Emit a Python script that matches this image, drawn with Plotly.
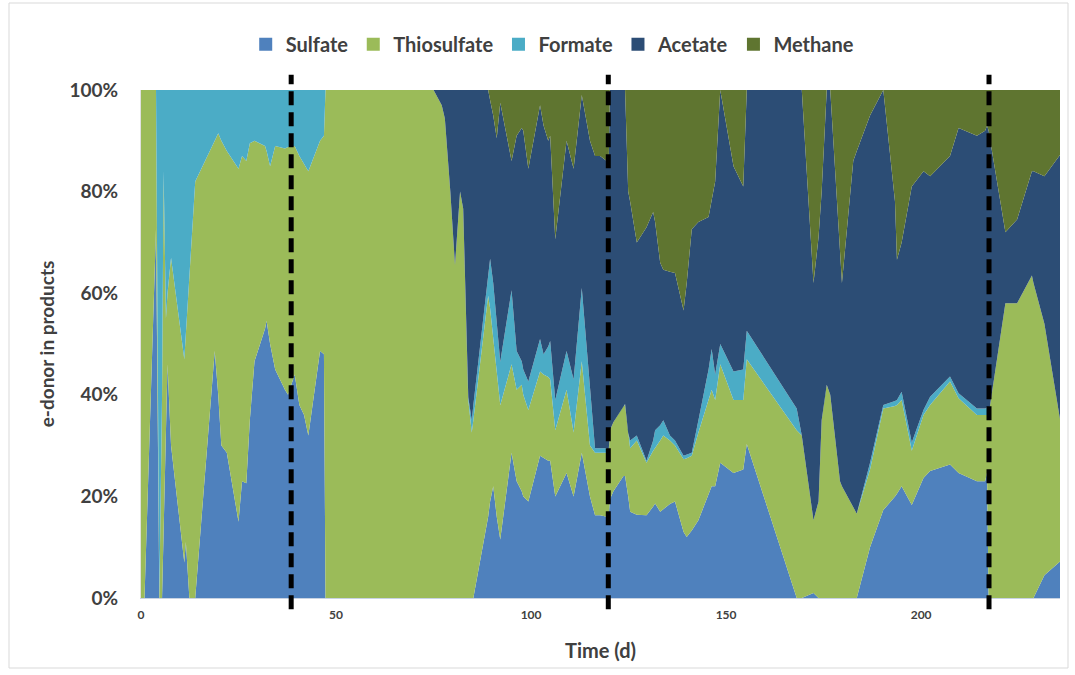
import plotly.graph_objects as go

# Time (d)
days = [
    0, 0.9, 3.85, 4.7, 5.4, 5.8, 6.4, 6.8, 7.7, 11.1,
    11.5, 12.4, 13.9, 18.9, 19.8, 20.6, 22.0, 25.0, 25.9, 27.0,
    27.9, 29.1, 31.8, 32.2, 33.1, 34.4, 36.9, 37.7, 39.4, 40.6,
    41.8, 42.9, 45.9, 46.9, 47.3, 50, 55, 60, 65, 70,
    75, 77.1, 77.9, 79.3, 80.5, 81.8, 82.6, 83.9, 84.8, 85.2,
    89.0, 89.5, 90.3, 91.2, 92.1, 95.0, 96.3, 97.6, 98.0, 99.3,
    102.3, 103.2, 104.4, 104.9, 106.2, 109.1, 110.9, 113.0, 115.1, 116.4,
    117.7, 119.4, 119.9, 120.2, 121.1, 123.7, 124.1, 124.9, 125.4, 127.1,
    129.6, 131.3, 131.8, 133.1, 133.9, 135.6, 136.9, 139.1, 139.9, 141.2,
    142.9, 145.5, 146.3, 147.2, 148.5, 151.9, 154.4, 155.3, 168.1, 169.4,
    172.4, 173.7, 174.5, 175.4, 175.8, 176.7, 179.2, 179.7, 182.6, 183.5,
    186.9, 190.3, 193.3, 193.8, 195.0, 197.6, 200.6, 202.3, 207.4, 209.6,
    214.3, 216.4, 216.9, 217.3, 221.6, 224.6, 228.4, 228.8, 231.6, 235.6,
]

sulfate = [
    0, 0, 72.7, 0, 0, 13, 35, 46, 30, 7,
    11, 0, 0, 48.6, 40, 30, 28.6, 15, 23, 22.6,
    35, 46.6, 53, 54.6, 50, 45, 41, 40, 44, 38,
    36, 32, 48.6, 48, 0, 0, 0, 0, 0, 0,
    0, 0, 0, 0, 0, 0, 0, 0, 0, 0,
    16, 19, 22, 16, 11.5, 28.6, 23, 21, 20, 19,
    28, 27.5, 27, 27, 20, 24.6, 20, 28.6, 20, 16.3,
    16.3, 16, 16, 19.4, 21, 24, 24, 20, 17, 16.4,
    16.3, 18, 18.6, 17, 17.5, 18.5, 19, 13, 12, 13.3,
    15.3, 20.5, 22, 22, 26.6, 24.6, 25.3, 30.3, 0, 0,
    1, 0, 0, 0, 0, 0, 0, 0, 0, 0,
    10, 17.3, 20, 20.5, 22, 18.3, 23.6, 25, 26.3, 24.6,
    23, 23, 24.7, 0, 0, 0, 0, 0, 4.5, 7.2,
]

thiosulfate = [
    100, 100, 27.3, 0, 40, 71, 20, 14, 37, 40,
    41, 65, 82, 41.4, 51.5, 60, 59.4, 69.5, 64, 63.4,
    54.5, 43.4, 36, 33.4, 35, 44, 47.5, 48.8, 45, 49,
    49.5, 52, 41.4, 43, 100, 100, 100, 100, 100, 100,
    100, 97, 94.4, 80, 65.5, 80, 76.6, 39, 32.6, 35,
    43.5, 38, 29, 28, 26.5, 17.4, 18, 21, 20, 18,
    16.6, 16.5, 16.5, 16, 13, 16.4, 12.6, 18, 10, 12.3,
    12.3, 12.6, 12.3, 13.6, 13.6, 13.8, 14, 12, 12.5, 14.6,
    10.3, 11, 10.9, 14, 14.5, 12.5, 11, 14.3, 15.5, 14.7,
    17.3, 18.5, 19, 17, 19.4, 14.4, 13.7, 16.7, 33, 32,
    14.3, 19, 35, 40, 42, 40, 23, 22, 18, 16.6,
    15.3, 20, 17.8, 17.5, 17, 10.7, 12.4, 13, 16.3, 14.7,
    13, 13, 11.3, 36, 58, 58, 63.5, 62, 49.5, 28,
]

formate = [
    0, 0, 0, 100, 60, 16, 45, 40, 33, 53,
    48, 35, 18, 10, 8.5, 10, 12, 15.5, 13, 14,
    10.5, 10, 11, 12, 15, 11, 11.5, 11.2, 11, 13,
    14.5, 16, 10, 9, 0, 0, 0, 0, 0, 0,
    0, 0, 0, 0, 0, 0, 0, 0.5, 2.4, 3,
    4.5, 9.8, 11, 10, 8.5, 14.6, 7.6, 4.6, 5, 5.6,
    6.4, 4, 6, 7.6, 6, 7.6, 10.4, 14.4, 12, 0.9,
    0.9, 0.9, 0.7, 0, 0, 0, 0.2, 0.5, 1.5, 1,
    0.4, 2, 3.5, 3, 3, 1, 1, 0.7, 0.7, 0.6,
    2.4, 6, 8, 5, 4, 5.6, 6, 5.6, 4.3, 0,
    0, 0, 0, 0, 0, 0, 0, 0, 0, 0,
    1.3, 0.7, 1, 1, 1.6, 1.6, 1, 1.6, 1, 1,
    1.3, 1.3, 1.5, 0, 0, 0, 0, 0, 0, 0,
]

acetate = [
    0, 0, 0, 0, 0, 0, 0, 0, 0, 0,
    0, 0, 0, 0, 0, 0, 0, 0, 0, 0,
    0, 0, 0, 0, 0, 0, 0, 0, 0, 0,
    0, 0, 0, 0, 0, 0, 0, 0, 0, 0,
    0, 3, 5.6, 20, 34.5, 20, 23.4, 60.5, 65, 62,
    36, 31.2, 33, 36.5, 51, 25.4, 42.4, 45.9, 47, 41.9,
    46, 45, 40.5, 40.4, 31.6, 41.4, 41.5, 38, 48, 57.5,
    57.5, 56.5, 56, 67, 65.4, 62.2, 61.8, 47.5, 47, 38,
    46, 45, 41, 32, 29.6, 32.2, 33, 28.6, 33.8, 44,
    39, 30, 29, 38, 50, 40.4, 36, 47.4, 62.7, 68,
    46.7, 52, 45, 55, 58, 60, 45, 40, 68, 71.4,
    68.4, 62, 39.2, 27.6, 29.4, 50.4, 47, 43.4, 43.4, 52.2,
    53.7, 54.7, 55.5, 56, 14, 16.5, 20.5, 22, 29, 52,
]

methane = [
    0, 0, 0, 0, 0, 0, 0, 0, 0, 0,
    0, 0, 0, 0, 0, 0, 0, 0, 0, 0,
    0, 0, 0, 0, 0, 0, 0, 0, 0, 0,
    0, 0, 0, 0, 0, 0, 0, 0, 0, 0,
    0, 0, 0, 0, 0, 0, 0, 0, 0, 0,
    0, 2, 5, 9.5, 2.5, 14, 9, 7.5, 8, 15.5,
    3, 7, 10, 9, 29.4, 10, 15.5, 1, 10, 13,
    13, 14, 15, 0, 0, 0, 0, 20, 22, 30,
    27, 24, 26, 34, 35.4, 35.8, 36, 43.4, 38, 27.4,
    26, 25, 22, 18, 0, 15, 19, 0, 0, 0,
    38, 29, 20, 5, 0, 0, 32, 38, 14, 12,
    5, 0, 22, 33.4, 30, 19, 16, 17, 13, 7.5,
    9, 8, 7, 8, 28, 25.5, 16, 16, 17, 13,
]

series_names = ["Sulfate", "Thiosulfate", "Formate", "Acetate", "Methane"]
series_values = [sulfate, thiosulfate, formate, acetate, methane]
colors = ["#4F81BD", "#9BBB59", "#4BACC6", "#2C4D75", "#5F7530"]

phase_days = [38.5, 119.8, 217.4]
y_ticks = [0, 20, 40, 60, 80, 100]
y_tick_labels = ["0%", "20%", "40%", "60%", "80%", "100%"]
x_ticks = [0, 50, 100, 150, 200]

FONT = "Lato, 'Open Sans', sans-serif"
TXT = "#404040"

fig = go.Figure()
for name, vals, col in zip(series_names, series_values, colors):
    fig.add_trace(go.Scatter(
        x=days, y=vals, name=name, stackgroup="one", mode="lines",
        line=dict(width=0, color=col), fillcolor=col, showlegend=False,
    ))

# legend entries with square keys
for name, col in zip(series_names, colors):
    fig.add_trace(go.Scatter(
        x=[None], y=[None], name=name, mode="markers",
        marker=dict(symbol="square", size=13, color=col), showlegend=True,
    ))

for d in phase_days:
    fig.add_shape(type="line", xref="x", yref="paper", x0=d, x1=d,
                  y0=-0.022, y1=1.03,
                  line=dict(color="black", width=5, dash="14px,7px"))

# outer chart border
fig.add_shape(type="rect", xref="paper", yref="paper",
              x0=(9 - 141) / 919, x1=(1068 - 141) / 919,
              y0=(598 - 668) / 508, y1=(598 - 3) / 508,
              line=dict(color="#D9D9D9", width=1), layer="below")

fig.update_layout(
    width=1075, height=675,
    margin=dict(l=141, r=15, t=90, b=77),
    paper_bgcolor="white", plot_bgcolor="white",
    font=dict(family=FONT, color=TXT),
    showlegend=True,
    legend=dict(orientation="h", x=0.448, xanchor="center", y=1.09, yanchor="middle",
                traceorder="normal",
                font=dict(size=20, color=TXT, family=FONT, weight="bold"),
                itemwidth=30),
    xaxis=dict(range=[0, 235.6], tickvals=x_ticks, showgrid=False, zeroline=False,
               showline=True, linecolor="#C8D3E3", linewidth=1,
               tickfont=dict(size=12, color=TXT, family=FONT, weight="bold"),
               ticklabelstandoff=6,
               title=dict(text="Time (d)", standoff=22,
                          font=dict(size=20, color=TXT, family=FONT, weight="bold"))),
    yaxis=dict(range=[0, 100], tickvals=y_ticks, ticktext=y_tick_labels,
               showgrid=False, zeroline=False, showline=True, linecolor="#E0E0E0",
               tickfont=dict(size=19, color=TXT, family=FONT, weight="bold"),
               ticklabelstandoff=18,
               title=dict(text="e-donor in products", standoff=9,
                          font=dict(size=19, color=TXT, family=FONT, weight="bold"))),
)

fig.write_html("out.html")
